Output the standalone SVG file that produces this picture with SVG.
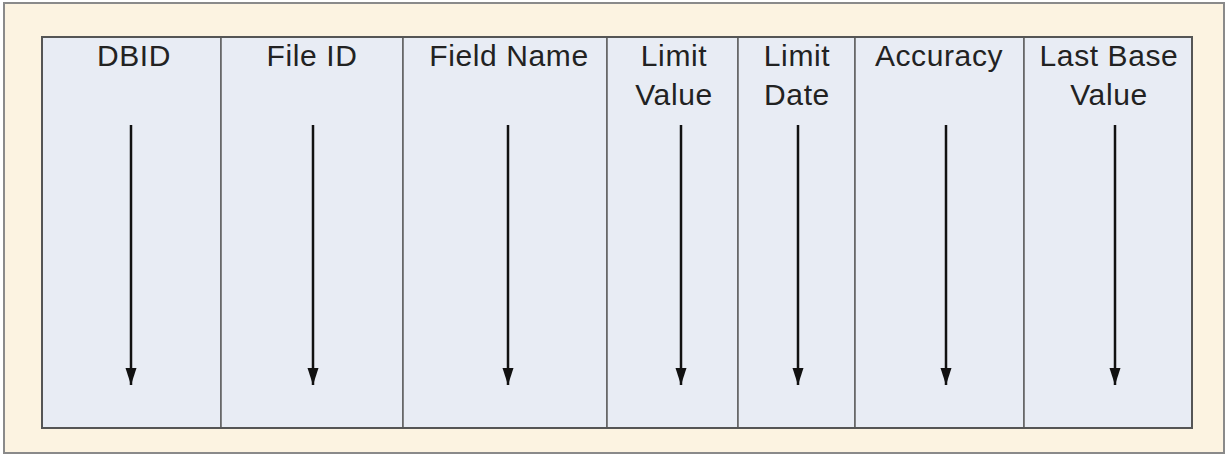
<svg xmlns="http://www.w3.org/2000/svg" width="1227" height="456" viewBox="0 0 1227 456">
  <style>
    .frame { fill: #fcf3e1; stroke: #8a8a8a; stroke-width: 2; }
    .col { fill: #e8ecf4; stroke: #5f5f5f; stroke-width: 1.5; }
    .label { font-family: "Liberation Sans", Arial, sans-serif; font-size: 30px; letter-spacing: 0.6px; fill: #222; text-anchor: middle; }
    .flow { stroke: #111; stroke-width: 2.5; fill: none; marker-end: url(#head); }
  </style>
  <defs>
    <!-- arrowhead drawn along +x so orient="auto" points it down the line -->
    <marker id="head" markerWidth="18" markerHeight="12" refX="17" refY="6" orient="auto" markerUnits="userSpaceOnUse" viewBox="0 0 18 12">
      <path d="M0,0.5 L17,6 L0,11.5 Z" fill="#111"/>
    </marker>
  </defs>

  <rect width="1227" height="456" fill="#ffffff"/>
  <rect class="frame" x="4" y="3" width="1220" height="450"/>

  <!-- table columns -->
  <g id="col-dbid">
    <rect class="col" x="42" y="37" width="179" height="391"/>
    <text class="label" x="134" y="66">DBID</text>
  </g>
  <g id="col-file-id">
    <rect class="col" x="221" y="37" width="182" height="391"/>
    <text class="label" x="312" y="66">File ID</text>
  </g>
  <g id="col-field-name">
    <rect class="col" x="403" y="37" width="204" height="391"/>
    <text class="label" x="509" y="66">Field Name</text>
  </g>
  <g id="col-limit-value">
    <rect class="col" x="607" y="37" width="131" height="391"/>
    <text class="label" x="674" y="66">Limit</text>
    <text class="label" x="674" y="105">Value</text>
  </g>
  <g id="col-limit-date">
    <rect class="col" x="738" y="37" width="117" height="391"/>
    <text class="label" x="797" y="66">Limit</text>
    <text class="label" x="797" y="105">Date</text>
  </g>
  <g id="col-accuracy">
    <rect class="col" x="855" y="37" width="169" height="391"/>
    <text class="label" x="939" y="66">Accuracy</text>
  </g>
  <g id="col-last-base-value">
    <rect class="col" x="1024" y="37" width="168" height="391"/>
    <text class="label" x="1109" y="66">Last Base</text>
    <text class="label" x="1109" y="105">Value</text>
  </g>
  <rect x="42" y="37" width="1150" height="391" fill="none" stroke="#555" stroke-width="2"/>

  <!-- downward arrows -->
  <g id="connectors">
    <line class="flow" x1="131" y1="125" x2="131" y2="385"/>
    <line class="flow" x1="313" y1="125" x2="313" y2="385"/>
    <line class="flow" x1="508" y1="125" x2="508" y2="385"/>
    <line class="flow" x1="681" y1="125" x2="681" y2="385"/>
    <line class="flow" x1="798" y1="125" x2="798" y2="385"/>
    <line class="flow" x1="946" y1="125" x2="946" y2="385"/>
    <line class="flow" x1="1115" y1="125" x2="1115" y2="385"/>
  </g>
</svg>
